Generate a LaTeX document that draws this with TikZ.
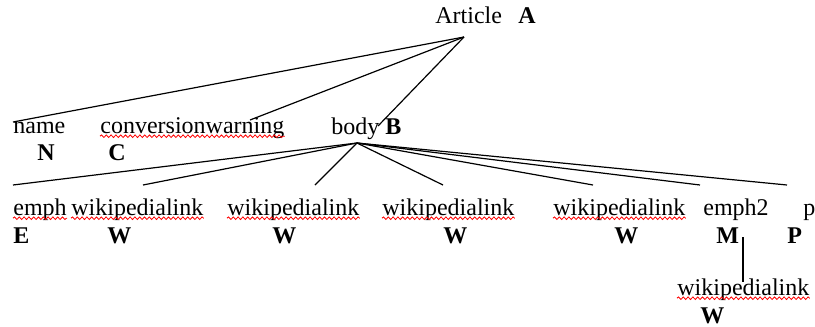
\documentclass[tikz,border=0pt]{standalone}
\usepackage{fontspec}
\setmainfont{Liberation Serif}
\usetikzlibrary{decorations.pathmorphing}
\tikzset{
  word/.style={anchor=base west, inner sep=0pt, font=\fontsize{12}{14}\selectfont},
  tag/.style={word, font=\fontsize{12}{14}\selectfont\bfseries},
  spell/.style={draw=red, line width=0.4pt, decorate,
    decoration={snake, amplitude=0.65pt, segment length=2.4pt}},
  branch/.style={line width=0.6pt}
}
\begin{document}
\begin{tikzpicture}[x=0.5pt, y=-0.5pt]
	\useasboundingbox (0,0) rectangle (815,327);
	% root
	\node[word] (article) at (435,23) {Article};
	\node[tag] (tagA) at (518,23) {A};
	\coordinate (artroot) at (464,37);
	
	% first level
	\node[word] (name) at (13,133) {name};
	\node[tag] (tagN) at (37,160) {N};
	\node[word] (conv) at (100,133) {conversionwarning};
	\node[tag] (tagC) at (108,160) {C};
	\node[word] (body) at (331,134) {body};
	\node[tag] (tagB) at (385,134) {B};
	\coordinate (name-top) at (13,122);
	\coordinate (conv-top) at (250,120);
	\coordinate (body-top) at (378,126);
	\coordinate (bodyroot) at (357,143);
	\foreach \c in {name-top, conv-top, body-top}
		\draw[branch] (artroot) -- (\c);
	
	% second level
	\node[word] (emph) at (13,215) {emph};
	\node[word] (wiki1) at (71,215) {wikipedialink};
	\node[word] (wiki2) at (227,215) {wikipedialink};
	\node[word] (wiki3) at (382,215) {wikipedialink};
	\node[word] (wiki4) at (553,215) {wikipedialink};
	\node[word] (emph2) at (703,215) {emph2};
	\node[word] (p) at (803,215) {p};
	\node[tag] (tagE) at (13,243) {E};
	\node[tag] (tagW1) at (107,243) {W};
	\node[tag] (tagW2) at (272,243) {W};
	\node[tag] (tagW3) at (443,243) {W};
	\node[tag] (tagW4) at (614,243) {W};
	\node[tag] (tagM) at (716,243) {M};
	\node[tag] (tagP) at (787,243) {P};
	\foreach \n/\x in {emph/13, wiki1/143, wiki2/315, wiki3/443, wiki4/593, emph2/700, p/787}{
		\coordinate (\n-top) at (\x,185);
		\draw[branch] (bodyroot) -- (\n-top);
	}
	
	% third level
	\node[word] (wiki5) at (677,295) {wikipedialink};
	\node[tag] (tagW5) at (700,323) {W};
	\coordinate (emph2-root) at (743,237);
	\coordinate (wiki5-top) at (743,282);
	\draw[branch] (emph2-root) -- (wiki5-top);
	
	% spell checker marks
	\foreach \n in {conv, emph, wiki1, wiki2, wiki3, wiki4, wiki5}
		\draw[spell] ([yshift=-1.6pt]\n.base west) -- ([yshift=-1.6pt]\n.base east);
\end{tikzpicture}
\end{document}
